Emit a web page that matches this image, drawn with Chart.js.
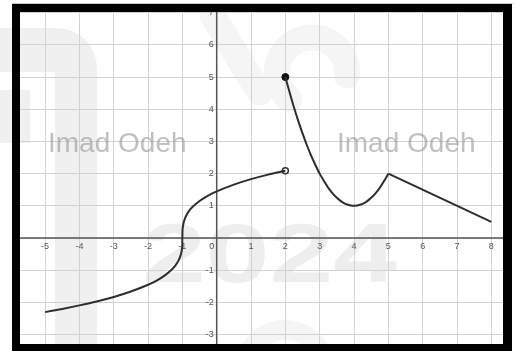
<!DOCTYPE html>
<html>
<head>
<meta charset="utf-8">
<script src="https://cdn.jsdelivr.net/npm/chart.js@4/dist/chart.umd.min.js"></script>
<style>
html,body{margin:0;padding:0;background:#fff;}
canvas{display:block;}
</style>
</head>
<body>
<canvas id="c" width="515" height="351"></canvas>
<script>
// ---- data ----
const xTicks = [-5,-4,-3,-2,-1,0,1,2,3,4,5,6,7,8];
const yTicks = [-3,-2,-1,1,2,3,4,5,6,7];
const xTickLabels = ["-5","-4","-3","-2","-1","0","1","2","3","4","5","6","7","8"];
const yTickLabels = ["-3","-2","-1","1","2","3","4","5","6","7"];

// piece 1 (root-shaped curve, -5 .. 2, open end at 2)
const rootX = [-5,-4.5,-4,-3.5,-3,-2.5,-2,-1.75,-1.5,-1.3,-1.2,-1.1,-1.05,-1.02,-1.01,-1.003,-1,-0.997,-0.99,-0.98,-0.95,-0.9,-0.8,-0.7,-0.5,-0.25,0,0.5,1,1.5,2];
const rootY = [-2.30,-2.20,-2.09,-1.97,-1.83,-1.66,-1.45,-1.32,-1.15,-0.97,-0.85,-0.67,-0.53,-0.39,-0.31,-0.21,0,0.21,0.31,0.39,0.53,0.67,0.85,0.97,1.15,1.32,1.45,1.66,1.83,1.97,2.09];

// piece 2 (parabola-shaped curve, 2 .. 5, closed start at 2)
const bowlX = [2,2.125,2.25,2.375,2.5,2.625,2.75,2.875,3,3.125,3.25,3.375,3.5,3.625,3.75,3.875,4,4.125,4.25,4.375,4.5,4.625,4.75,4.875,5];
const bowlY = [5,4.52,4.06,3.64,3.25,2.89,2.56,2.27,2,1.77,1.56,1.39,1.25,1.14,1.06,1.02,1,1.02,1.06,1.14,1.25,1.39,1.56,1.77,2];

// piece 3 (straight segment 5 .. 8)
const lineX = [5,8];
const lineY = [2,0.5];

const closedDot = {x:2, y:5};
const openDot = {x:2, y:2.09};

const toPts = (xs, ys) => xs.map((x,i)=>({x:x, y:ys[i]}));

const FONT = "'Liberation Sans', Arial, sans-serif";

const decor = {
  id:'decor',
  beforeDraw(chart){
    const ctx = chart.ctx;
    ctx.save();
    ctx.fillStyle = '#fff';
    ctx.fillRect(0,0,chart.width,chart.height);
    // faint logo shapes
    ctx.fillStyle = '#f0f0f0';
    ctx.beginPath();
    ctx.moveTo(0,28);
    ctx.lineTo(57,28);
    ctx.arcTo(97,28,97,68,40);
    ctx.lineTo(97,351);
    ctx.lineTo(55,351);
    ctx.lineTo(55,72);
    ctx.lineTo(0,72);
    ctx.closePath();
    ctx.fill();
    ctx.fillRect(0,90,30,53);
    // rotated shapes top middle (very faint)
    ctx.save();
    ctx.translate(275,60);
    ctx.rotate(-0.55);
    ctx.strokeStyle = '#f5f5f5';
    ctx.lineWidth = 26;
    ctx.lineCap = 'round';
    ctx.beginPath();
    ctx.moveTo(-30,-70); ctx.lineTo(-30,20);
    ctx.stroke();
    ctx.beginPath();
    ctx.arc(25,30,35,Math.PI*0.9,Math.PI*2.2);
    ctx.stroke();
    ctx.restore();
    // circle at bottom
    ctx.strokeStyle = '#f5f5f5';
    ctx.lineWidth = 20;
    ctx.beginPath();
    ctx.arc(285,370,40,Math.PI*1.1,Math.PI*1.9);
    ctx.stroke();
    // 2024
    ctx.fillStyle = '#eeeeee';
    ctx.font = 'bold 84px ' + FONT;
    ctx.textBaseline = 'alphabetic';
    const txt = '2024';
    const w = ctx.measureText(txt).width;
    ctx.save();
    ctx.translate(142,282);
    ctx.scale(255/w,1);
    ctx.fillText(txt,0,0);
    ctx.restore();
    ctx.restore();
  },
  beforeDatasetsDraw(chart){
    const ctx = chart.ctx;
    const xs = chart.scales.x, ys = chart.scales.y;
    const a = chart.chartArea;
    const x0 = xs.getPixelForValue(0), y0 = ys.getPixelForValue(0);
    ctx.save();
    ctx.strokeStyle = '#555';
    ctx.lineWidth = 1.5;
    ctx.beginPath();
    ctx.moveTo(a.left,y0); ctx.lineTo(a.right,y0);
    ctx.moveTo(x0,a.top); ctx.lineTo(x0,a.bottom);
    ctx.stroke();
    ctx.fillStyle = '#555';
    ctx.font = '9px ' + FONT;
    ctx.textBaseline = 'middle';
    ctx.textAlign = 'center';
    xTicks.forEach((v,i)=>{
      let px = xs.getPixelForValue(v);
      if (v === 0) px -= 5;
      ctx.fillText(xTickLabels[i], px, y0+8);
    });
    ctx.textAlign = 'right';
    yTicks.forEach((v,i)=>{
      ctx.fillText(yTickLabels[i], x0-3, ys.getPixelForValue(v));
    });
    ctx.restore();
  },
  afterDraw(chart){
    const ctx = chart.ctx;
    ctx.save();
    // watermark text
    ctx.fillStyle = 'rgba(150,150,150,0.6)';
    ctx.font = '28px ' + FONT;
    ctx.textBaseline = 'alphabetic';
    ctx.textAlign = 'left';
    ctx.fillText('Imad Odeh', 48, 152);
    ctx.fillText('Imad Odeh', 337, 152);
    // frame
    ctx.fillStyle = '#c8c8c8';
    ctx.fillRect(12,3,501,1);
    ctx.fillStyle = '#000';
    ctx.fillRect(12,4,500,8);
    ctx.fillRect(12,4,8,347);
    ctx.fillRect(503,4,9,347);
    ctx.fillRect(12,344,500,7);
    ctx.restore();
  }
};

new Chart(document.getElementById('c'), {
  type:'scatter',
  data:{
    datasets:[
      {data: toPts(rootX,rootY), showLine:true, borderColor:'#2e2e2e', borderWidth:2, pointRadius:0, cubicInterpolationMode:'monotone', fill:false},
      {data: toPts(bowlX,bowlY), showLine:true, borderColor:'#2e2e2e', borderWidth:2, pointRadius:0, cubicInterpolationMode:'monotone', fill:false},
      {data: toPts(lineX,lineY), showLine:true, borderColor:'#2e2e2e', borderWidth:2, pointRadius:0, tension:0, fill:false},
      {data: [closedDot], showLine:false, pointRadius:3.5, backgroundColor:'#111', borderColor:'#111', borderWidth:1},
      {data: [openDot], showLine:false, pointRadius:3, backgroundColor:'#fff', borderColor:'#333', borderWidth:1.5}
    ]
  },
  options:{
    responsive:false,
    animation:false,
    devicePixelRatio:1,
    layout:{padding:{left:20,top:12,right:12,bottom:7}},
    plugins:{legend:{display:false}, tooltip:{enabled:false}},
    scales:{
      x:{type:'linear', min:-5.73, max:8.34,
         afterBuildTicks:(s)=>{ s.ticks = xTicks.map(v=>({value:v})); },
         ticks:{display:false}, border:{display:false},
         grid:{color:'#d2d2d2', lineWidth:1, drawTicks:false}},
      y:{type:'linear', min:-3.29, max:7.02,
         afterBuildTicks:(s)=>{ s.ticks = yTicks.concat([0]).map(v=>({value:v})); },
         ticks:{display:false}, border:{display:false},
         grid:{color:'#d2d2d2', lineWidth:1, drawTicks:false}}
    }
  },
  plugins:[decor]
});
</script>
</body>
</html>
